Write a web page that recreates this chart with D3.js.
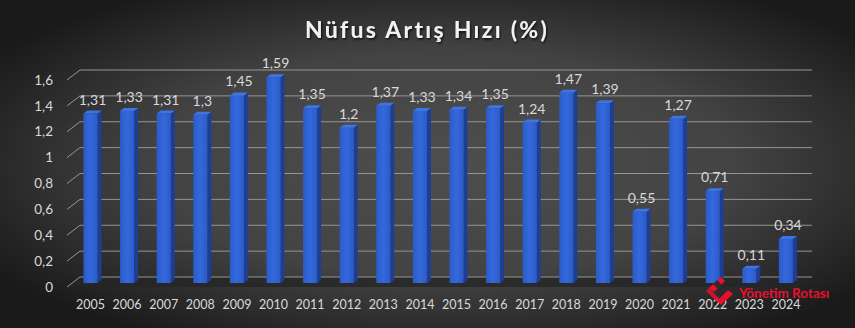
<!DOCTYPE html>
<html lang="tr">
<head>
<meta charset="UTF-8">
<script src="https://d3js.org/d3.v7.min.js"></script>
<style>
  body { margin: 0; background: #222; }
  svg { display: block; font-family: Lato, "Open Sans", sans-serif; }
</style>
</head>
<body>
<div id="vis"></div>
<script>
// data
const years = ['2005','2006','2007','2008','2009','2010','2011','2012','2013','2014',
               '2015','2016','2017','2018','2019','2020','2021','2022','2023','2024'];
const rates = [1.31,1.33,1.31,1.3,1.45,1.59,1.35,1.2,1.37,1.33,
               1.34,1.35,1.24,1.47,1.39,0.55,1.27,0.71,0.11,0.34];
const yTicks = [0,0.2,0.4,0.6,0.8,1,1.2,1.4,1.6];

const width = 855, height = 328;
const depthX = 13, depthY = 10;     // floor depth (3d look)
const barPos = 0.6;                 // how far the bars sit toward the front

const svg = d3.select('#vis').append('svg')
  .attr('width', width)
  .attr('height', height);

const defs = svg.append('defs');
const bg = defs.append('radialGradient').attr('id', 'bg')
  .attr('cx', '52%').attr('cy', '50%').attr('r', '62%');
bg.append('stop').attr('offset', '0%').attr('stop-color', '#4e4e4e');
bg.append('stop').attr('offset', '55%').attr('stop-color', '#434343');
bg.append('stop').attr('offset', '100%').attr('stop-color', '#1a1a1a');

const front = defs.append('linearGradient').attr('id', 'barFront')
  .attr('x1', 0).attr('x2', 1).attr('y1', 0).attr('y2', 0);
front.append('stop').attr('offset', '0%').attr('stop-color', '#2a5cc9');
front.append('stop').attr('offset', '50%').attr('stop-color', '#3468dc');
front.append('stop').attr('offset', '100%').attr('stop-color', '#2b5bc8');

const shadow = defs.append('filter').attr('id', 'shadow');
shadow.append('feDropShadow').attr('dx', 1).attr('dy', 1.5)
  .attr('stdDeviation', 1).attr('flood-color', '#000').attr('flood-opacity', 0.8);

svg.append('rect').attr('width', width).attr('height', height).attr('fill', 'url(#bg)');

// scales (back wall)
const y = d3.scaleLinear().domain([0, 1.6]).range([277, 70]);
const x = d3.scaleBand().domain(years).range([80, 812]);

// floor
const x0 = x.range()[0], x1 = x.range()[1];
svg.append('path')
  .attr('d', `M${x0},${y(0)}L${x1},${y(0)}L${x1 - depthX},${y(0) + depthY}L${x0 - depthX},${y(0) + depthY}Z`)
  .attr('fill', '#262626').attr('opacity', 0.8);

// gridlines
const grid = svg.append('g').attr('stroke', '#959595').attr('stroke-width', 1).attr('fill', 'none');
yTicks.forEach(t => {
  grid.append('path')
    .attr('d', `M${x0 - depthX},${y(t) + depthY}L${x0},${y(t)}L${x1},${y(t)}`);
});

// y labels
svg.append('g').selectAll('text')
  .data(yTicks).join('text')
  .attr('x', 53)
  .attr('y', d => y(d) + depthY)
  .attr('dy', '0.35em')
  .attr('text-anchor', 'end')
  .attr('fill', '#d9d9d9')
  .attr('font-size', 13.5)
  .text(d => d3.format('~r')(d).replace('.', ','));

// bars
const bw = 14, sd = 4, sdy = 3;
const offX = -depthX * barPos, offY = depthY * barPos;
const bars = svg.append('g').selectAll('g')
  .data(years.map((yr, i) => ({ yr, v: rates[i] })))
  .join('g');

bars.each(function(d) {
  const g = d3.select(this);
  const cx = x(d.yr) + x.bandwidth() / 2 + offX;
  const l = cx - bw / 2, r = cx + bw / 2;
  const yb = y(0) + offY, yt = y(d.v) + offY;
  g.append('path')
    .attr('d', `M${r},${yb}L${r + sd},${yb - sdy}L${r + sd},${yt - sdy}L${r},${yt}Z`)
    .attr('fill', '#1c3f95');
  g.append('path')
    .attr('d', `M${l},${yt}L${l + sd},${yt - sdy}L${r + sd},${yt - sdy}L${r},${yt}Z`)
    .attr('fill', '#3f74e6');
  g.append('rect')
    .attr('x', l).attr('y', yt).attr('width', bw).attr('height', yb - yt)
    .attr('fill', 'url(#barFront)');
  g.append('text')
    .attr('x', cx + 2).attr('y', yt - 9)
    .attr('text-anchor', 'middle')
    .attr('fill', '#d9d9d9')
    .attr('font-size', 14)
    .text(String(d.v).replace('.', ','));
});

// x labels
svg.append('g').selectAll('text')
  .data(years).join('text')
  .attr('x', d => x(d) + x.bandwidth() / 2 + offX)
  .attr('y', 305)
  .attr('dy', '0.35em')
  .attr('text-anchor', 'middle')
  .attr('fill', '#d9d9d9')
  .attr('font-size', 12.5)
  .text(d => d);

// title
svg.append('text')
  .attr('x', 427).attr('y', 30)
  .attr('dy', '0.35em')
  .attr('text-anchor', 'middle')
  .attr('fill', '#f2f2f2')
  .attr('font-size', 23)
  .attr('font-weight', 'bold')
  .attr('letter-spacing', 2.3)
  .attr('filter', 'url(#shadow)')
  .text('Nüfus Artış Hızı (%)');

// watermark
const wm = svg.append('g').attr('transform', 'translate(721,292)');
wm.append('path').attr('d', 'M-12,-4L0,-15L4,-11L-7,0Z').attr('fill', '#e8112d');
wm.append('path').attr('d', 'M-4,-12L8,0L4,4L-8,-8Z').attr('fill', '#2a2a2a').attr('opacity', 0.9);
wm.append('path').attr('d', 'M12,2L0,13L-4,9L7,-2Z').attr('fill', '#e8112d');
wm.append('path').attr('d', 'M-12,-4L-1,7L-4,10L-15,-1Z').attr('fill', '#e8112d').attr('opacity', 0.85);
svg.append('text')
  .attr('x', 739).attr('y', 293)
  .attr('dy', '0.35em')
  .attr('fill', '#e8112d')
  .attr('font-size', 13.5)
  .attr('font-weight', 'bold')
  .text('Yönetim Rotası');
</script>
</body>
</html>
